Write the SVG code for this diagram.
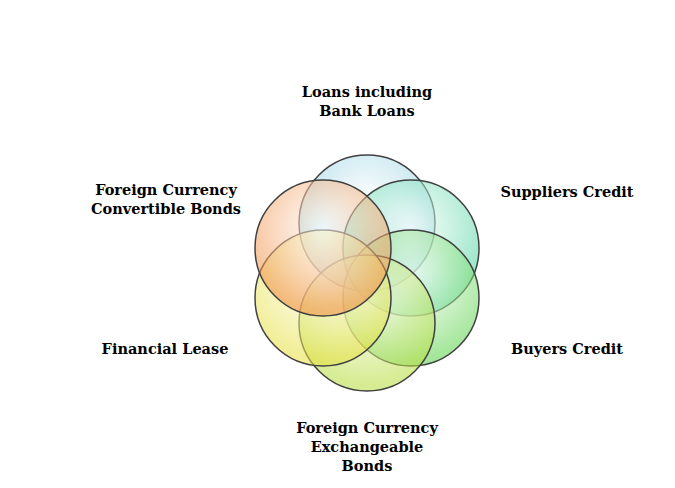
<svg xmlns="http://www.w3.org/2000/svg" width="675" height="488" viewBox="0 0 675 488">
<style>
text{font-family:"DejaVu Serif","Liberation Serif",serif;font-weight:bold;font-size:14.5px;fill:#000;text-anchor:middle}
.c{stroke:#404040;stroke-width:1.5;fill-opacity:0.55}
</style>
<defs>
<radialGradient id="gb" cx="0.5" cy="0.35" r="0.6"><stop offset="0" stop-color="#ffffff"/><stop offset="1" stop-color="#7cc6dc"/></radialGradient>
<radialGradient id="gt" cx="0.5" cy="0.35" r="0.6"><stop offset="0" stop-color="#ffffff"/><stop offset="1" stop-color="#3fcf9a"/></radialGradient>
<radialGradient id="gg" cx="0.5" cy="0.35" r="0.6"><stop offset="0" stop-color="#ffffff"/><stop offset="1" stop-color="#5cd24a"/></radialGradient>
<radialGradient id="gy" cx="0.5" cy="0.35" r="0.6"><stop offset="0" stop-color="#ffffff"/><stop offset="1" stop-color="#b5dc3a"/></radialGradient>
<radialGradient id="gl" cx="0.5" cy="0.35" r="0.6"><stop offset="0" stop-color="#ffffff"/><stop offset="1" stop-color="#e6e040"/></radialGradient>
<radialGradient id="go" cx="0.5" cy="0.35" r="0.6"><stop offset="0" stop-color="#ffffff"/><stop offset="1" stop-color="#f08a3c"/></radialGradient>
</defs>
<g id="circles">
<circle id="n1" class="c" cx="367" cy="223" r="68" fill="url(#gb)"/>
<circle id="n2" class="c" cx="411" cy="248" r="68" fill="url(#gt)"/>
<circle id="n3" class="c" cx="411" cy="298" r="68" fill="url(#gg)"/>
<circle id="n4" class="c" cx="367" cy="323" r="68" fill="url(#gy)"/>
<circle id="n5" class="c" cx="323" cy="298" r="68" fill="url(#gl)"/>
<circle id="n6" class="c" cx="323" cy="248" r="68" fill="url(#go)"/>
</g>
<g id="labels">
<text x="367" y="97">Loans including</text><text x="367" y="116">Bank Loans</text>
<text x="567" y="197">Suppliers Credit</text>
<text x="567" y="354">Buyers Credit</text>
<text x="367" y="433">Foreign Currency</text><text x="367" y="452">Exchangeable</text><text x="367" y="471">Bonds</text>
<text x="165" y="354">Financial Lease</text>
<text x="166" y="195">Foreign Currency</text><text x="166" y="214">Convertible Bonds</text>
</g>
</svg>
